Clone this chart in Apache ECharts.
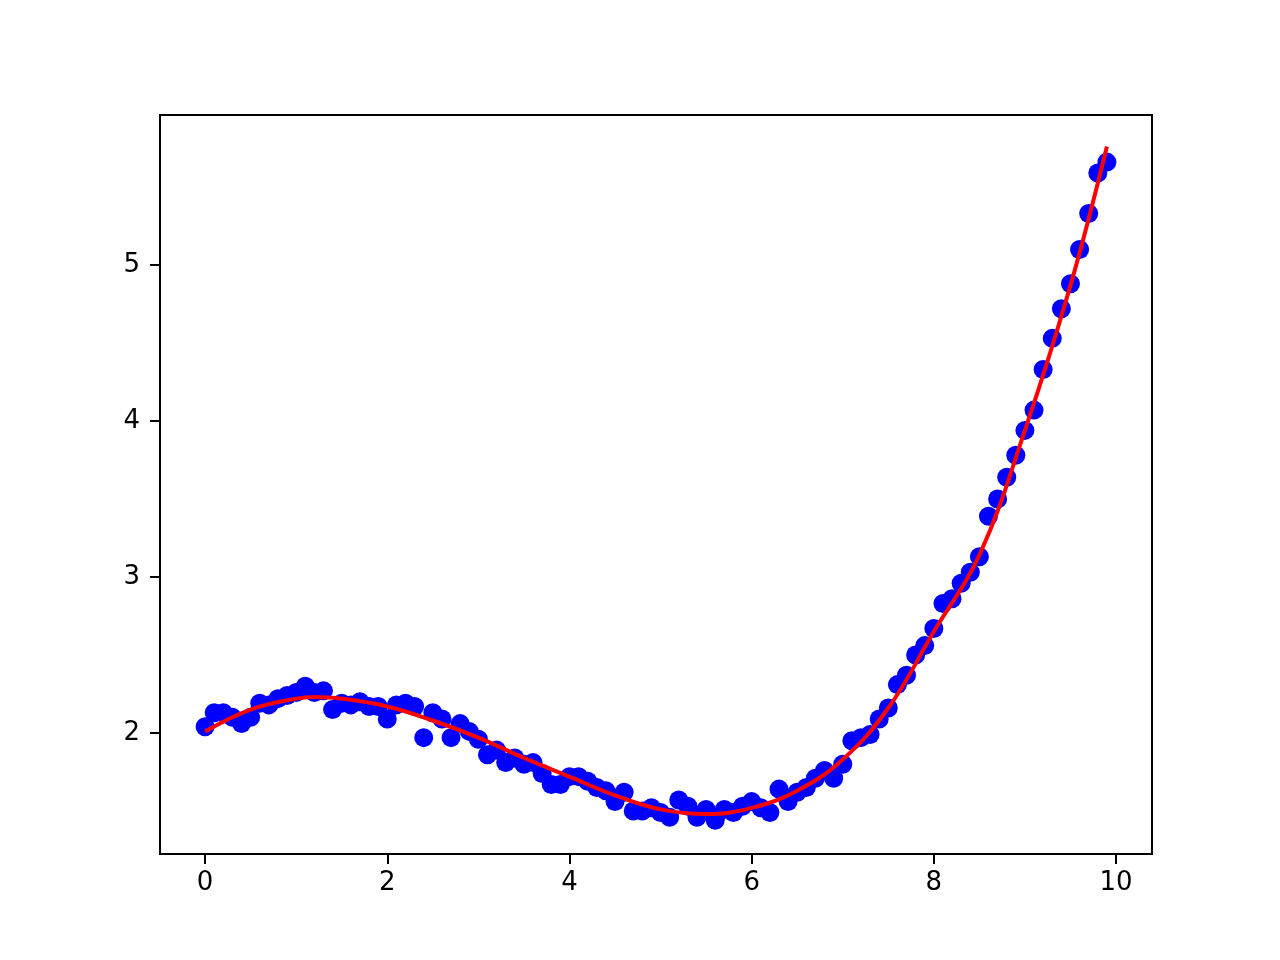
<!DOCTYPE html>
<html>
<head>
<meta charset="utf-8">
<script src="https://cdn.jsdelivr.net/npm/echarts@6/dist/echarts.min.js"></script>
<style>html,body{margin:0;padding:0;background:#fff}#c{width:1280px;height:960px}</style>
</head>
<body>
<div id="c"></div>
<script>
const xPoints = [0.0,0.1,0.2,0.3,0.4,0.5,0.6,0.7,0.8,0.9,1.0,1.1,1.2,1.3,1.4,1.5,1.6,1.7,1.8,1.9,2.0,2.1,2.2,2.3,2.4,2.5,2.6,2.7,2.8,2.9,3.0,3.1,3.2,3.3,3.4,3.5,3.6,3.7,3.8,3.9,4.0,4.1,4.2,4.3,4.4,4.5,4.6,4.7,4.8,4.9,5.0,5.1,5.2,5.3,5.4,5.5,5.6,5.7,5.8,5.9,6.0,6.1,6.2,6.3,6.4,6.5,6.6,6.7,6.8,6.9,7.0,7.1,7.2,7.3,7.4,7.5,7.6,7.7,7.8,7.9,8.0,8.1,8.2,8.3,8.4,8.5,8.6,8.7,8.8,8.9,9.0,9.1,9.2,9.3,9.4,9.5,9.6,9.7,9.8,9.9];
const yPoints = [2.04,2.13,2.13,2.10,2.06,2.10,2.19,2.18,2.22,2.24,2.26,2.30,2.26,2.27,2.15,2.19,2.18,2.20,2.17,2.17,2.09,2.18,2.19,2.17,1.97,2.13,2.09,1.97,2.06,2.01,1.96,1.86,1.89,1.81,1.84,1.80,1.81,1.74,1.67,1.67,1.72,1.72,1.69,1.65,1.63,1.56,1.62,1.50,1.50,1.52,1.49,1.46,1.57,1.53,1.46,1.51,1.44,1.51,1.49,1.53,1.56,1.52,1.49,1.64,1.56,1.62,1.65,1.71,1.76,1.71,1.80,1.95,1.97,1.99,2.09,2.16,2.31,2.37,2.50,2.56,2.67,2.83,2.86,2.96,3.03,3.13,3.39,3.50,3.64,3.78,3.94,4.07,4.33,4.53,4.72,4.88,5.10,5.33,5.59,5.66];
const xFit = [0.0,0.5,1.0,1.2,1.5,2.0,2.5,3.0,3.5,4.0,4.5,5.0,5.5,6.0,6.5,7.0,7.5,8.0,8.5,9.0,9.5,9.9];
const yFit = [2.01,2.15,2.22,2.23,2.22,2.17,2.08,1.97,1.84,1.72,1.60,1.51,1.48,1.52,1.63,1.83,2.16,2.65,3.14,3.94,4.87,5.76];
const xTicks = [0,2,4,6,8,10];
const yTicks = [2,3,4,5];

const chart = echarts.init(document.getElementById('c'));
const font = 'DejaVu Sans';
chart.setOption({
  animation: false,
  backgroundColor: '#fff',
  grid: {left: 160, right: 128, top: 115, bottom: 106, show: true, borderColor: '#000', borderWidth: 2, backgroundColor: 'transparent'},
  xAxis: {
    type: 'value', min: -0.495, max: 10.395,
    axisLine: {show: true, onZero: false, lineStyle: {color: '#000', width: 2}},
    axisTick: {show: true, length: 10, inside: false, customValues: xTicks, lineStyle: {color: '#000', width: 2}},
    axisLabel: {customValues: xTicks, color: '#000', fontSize: 26, fontFamily: font, margin: 16, showMinLabel: true, showMaxLabel: true},
    splitLine: {show: false}
  },
  yAxis: {
    type: 'value', min: 1.224, max: 5.962,
    axisLine: {show: true, onZero: false, lineStyle: {color: '#000', width: 2}},
    axisTick: {show: true, length: 10, inside: false, customValues: yTicks, lineStyle: {color: '#000', width: 2}},
    axisLabel: {customValues: yTicks, color: '#000', fontSize: 26, fontFamily: font, margin: 20},
    splitLine: {show: false}
  },
  series: [
    {
      type: 'scatter',
      data: xPoints.map((x, i) => [x, yPoints[i]]),
      symbol: 'circle', symbolSize: 19,
      itemStyle: {color: '#0000ff', opacity: 1},
      z: 2
    },
    {
      type: 'line',
      data: xFit.map((x, i) => [x, yFit[i]]),
      smooth: 0.4,
      showSymbol: false,
      lineStyle: {color: '#ff0000', width: 4},
      z: 3
    }
  ]
});
</script>
</body>
</html>
